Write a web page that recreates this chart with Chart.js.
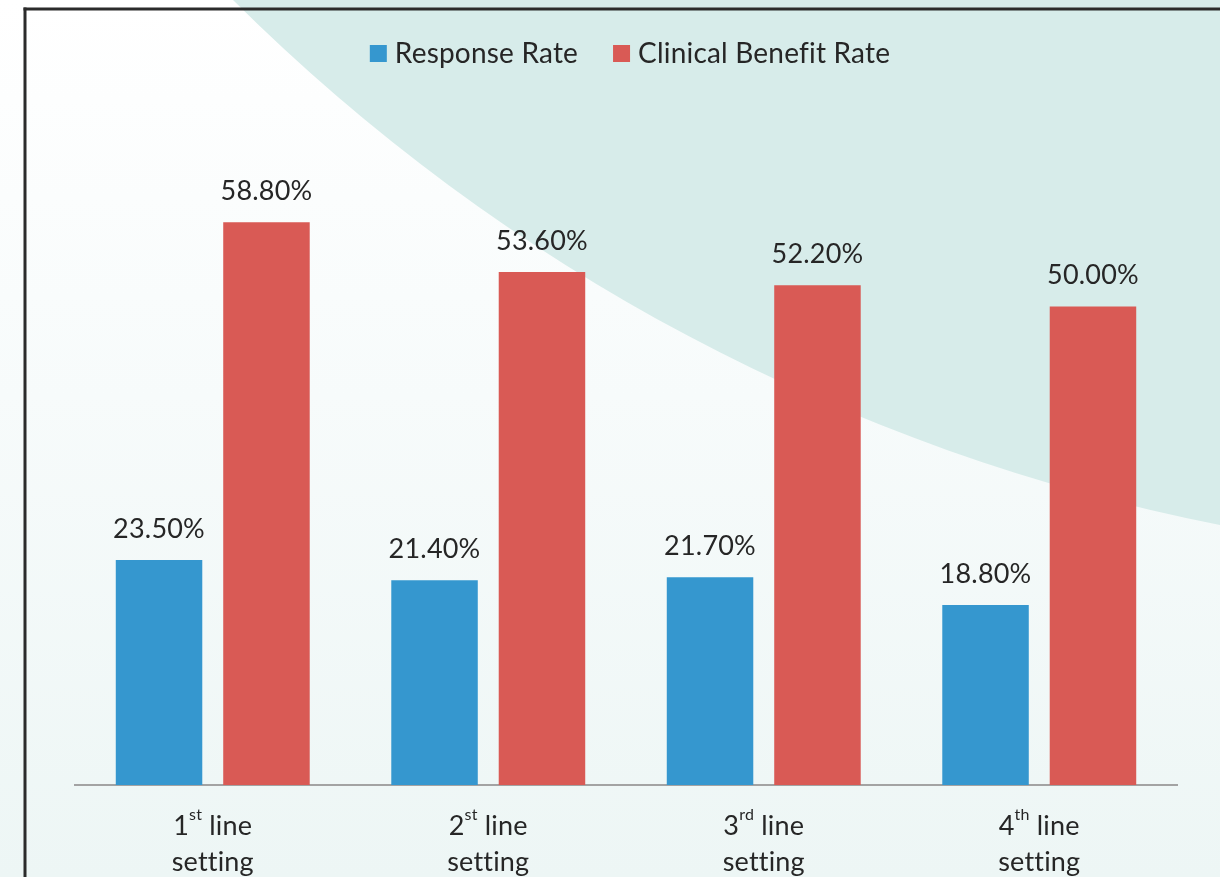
<!DOCTYPE html>
<html><head><meta charset="utf-8">
<script src="https://cdn.jsdelivr.net/npm/chart.js@4.4.1/dist/chart.umd.min.js"></script>
<style>html,body{margin:0;padding:0;background:#fff;overflow:hidden}canvas{display:block}</style>
</head><body>
<canvas id="c" width="1220" height="877"></canvas>
<script>
// ---- data ----
const categoryNumbers = ["1", "2", "3", "4"];
const categorySuffixes = ["st", "st", "rd", "th"];
const categoryWord = ["line", "line", "line", "line"];
const categorySecondLine = ["setting", "setting", "setting", "setting"];
const seriesNames = ["Response Rate", "Clinical Benefit Rate"];
const responseRate = [23.5, 21.4, 21.7, 18.8];
const clinicalBenefitRate = [58.8, 53.6, 52.2, 50.0];

// ---- style ----
const FONT = "Lato, 'Open Sans', sans-serif";
const TEXT_COLOR = "#262626";
const seriesColors = ["#3597cf", "#d95a55"];

const categoryLabels = categoryNumbers.map((n, i) => n + categorySuffixes[i] + " " + categoryWord[i] + " " + categorySecondLine[i]);

function noLig(ctx) { if ("letterSpacing" in ctx) ctx.letterSpacing = "0.2px"; }

const backgroundPlugin = {
  id: "bg",
  beforeDraw(chart) {
    const ctx = chart.ctx, W = chart.width, H = chart.height;
    ctx.save();
    const g = ctx.createLinearGradient(0, 0, 0, H);
    g.addColorStop(0, "#ffffff");
    g.addColorStop(0.45, "#f7fbfb");
    g.addColorStop(1, "#edf6f5");
    ctx.fillStyle = g;
    ctx.fillRect(0, 0, W, H);
    // teal curved shape (arc of a large circle)
    const ccx = 1592, ccy = -1365;
    const r = Math.hypot(233 - ccx, 0 - ccy);
    const a0 = Math.atan2(0 - ccy, 233 - ccx);
    const a1 = Math.acos((W + 2 - ccx) / r);
    ctx.beginPath();
    ctx.arc(ccx, ccy, r, a0, a1, true);
    ctx.lineTo(W + 2, -2);
    ctx.lineTo(200, -2);
    ctx.closePath();
    ctx.fillStyle = "#d7ecea";
    ctx.fill();
    // frame lines
    ctx.fillStyle = "#2b2b2b";
    ctx.fillRect(23.5, 7.5, W - 23.5, 3);
    ctx.fillRect(23.5, 7.5, 3, H - 7.5);
    ctx.restore();
  }
};

const labelsPlugin = {
  id: "labels",
  afterDatasetsDraw(chart) {
    const ctx = chart.ctx;
    ctx.save();
    noLig(ctx);
    ctx.font = "27px " + FONT;
    ctx.fillStyle = TEXT_COLOR;
    ctx.textAlign = "center";
    ctx.textBaseline = "middle";
    chart.data.datasets.forEach((ds, di) => {
      const meta = chart.getDatasetMeta(di);
      meta.data.forEach((bar, i) => {
        ctx.fillText(ds.data[i].toFixed(2) + "%", bar.x, bar.y - 31);
      });
    });
    ctx.restore();
  },
  afterDraw(chart) {
    const ctx = chart.ctx;
    const xs = chart.scales.x;
    ctx.save();
    noLig(ctx);
    ctx.fillStyle = TEXT_COLOR;
    ctx.textBaseline = "middle";
    // category labels
    const big = "27px " + FONT, small = "16px " + FONT;
    categoryNumbers.forEach((n, i) => {
      const cx = xs.getPixelForValue(i);
      ctx.font = big;
      const wN = ctx.measureText(n).width;
      const rest = " " + categoryWord[i];
      const wR = ctx.measureText(rest).width;
      ctx.font = small;
      const wS = ctx.measureText(categorySuffixes[i]).width;
      const total = wN + wS + wR;
      let x = cx - total / 2;
      const y1 = 826;
      ctx.textAlign = "left";
      ctx.font = big;
      ctx.fillText(n, x, y1);
      x += wN;
      ctx.font = small;
      ctx.fillText(categorySuffixes[i], x, y1 - 11);
      x += wS;
      ctx.font = big;
      ctx.fillText(rest, x, y1);
      ctx.textAlign = "center";
      ctx.fillText(categorySecondLine[i], cx, 862);
    });
    // legend
    ctx.font = "28px " + FONT;
    const box = 17, gap = 8, itemGap = 35;
    const widths = chart.data.datasets.map(ds => ctx.measureText(ds.label).width);
    const total = widths.reduce((a, w) => a + box + gap + w, 0) + itemGap * (widths.length - 1);
    let lx = 630 - total / 2;
    ctx.textAlign = "left";
    chart.data.datasets.forEach((ds, di) => {
      ctx.fillStyle = ds.backgroundColor;
      ctx.fillRect(lx, 45, box, box);
      ctx.fillStyle = TEXT_COLOR;
      ctx.fillText(ds.label, lx + box + gap, 54);
      lx += box + gap + widths[di] + itemGap;
    });
    ctx.restore();
  }
};

new Chart(document.getElementById("c"), {
  type: "bar",
  data: {
    labels: categoryLabels,
    datasets: [
      { label: seriesNames[0], data: responseRate, backgroundColor: seriesColors[0] },
      { label: seriesNames[1], data: clinicalBenefitRate, backgroundColor: seriesColors[1] }
    ]
  },
  options: {
    responsive: false,
    animation: false,
    devicePixelRatio: 1,
    categoryPercentage: 0.78,
    barPercentage: 0.805,
    layout: { padding: { top: 115, left: 75, right: 43, bottom: 92 } },
    plugins: { legend: { display: false }, tooltip: { enabled: false } },
    scales: {
      x: {
        grid: { display: false, drawTicks: false },
        ticks: { display: false },
        border: { display: true, color: "#a3a3a3", width: 2 }
      },
      y: { display: false, min: 0, max: 70 }
    }
  },
  plugins: [backgroundPlugin, labelsPlugin]
});
</script>
</body></html>
